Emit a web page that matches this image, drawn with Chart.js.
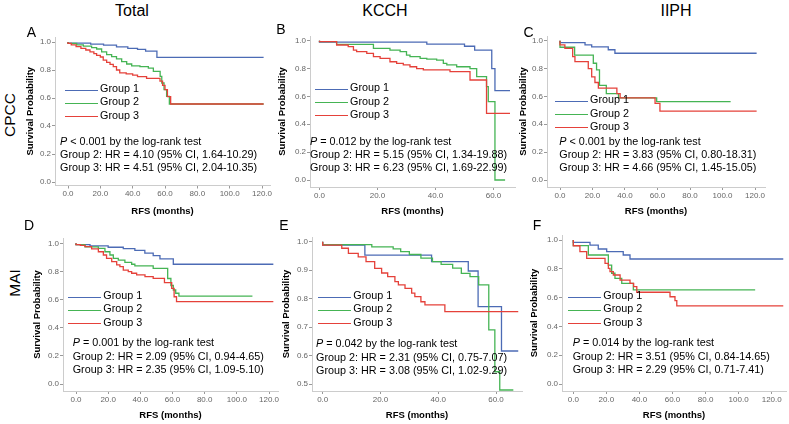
<!DOCTYPE html>
<html>
<head>
<meta charset="utf-8">
<title>RFS by group</title>
<script src="https://cdn.jsdelivr.net/npm/chart.js@4.4.1/dist/chart.umd.min.js"></script>
<style>
  body { margin: 0; background: #fff; }
  #page { position: relative; width: 789px; height: 424px; overflow: hidden; font-family: "Liberation Sans", Arial, sans-serif; color: #000; }
  #page canvas { position: absolute; }
  .lbl { position: absolute; white-space: nowrap; line-height: 1; }
  .head { font-size: 16px; transform: translate(-50%, -50%); }
  .row { font-size: 15.5px; transform: translate(-50%, -50%) rotate(-90deg); }
  .letter { font-size: 14px; transform: translate(-50%, -50%); }
  .txt { font-size: 10.8px; transform: translateY(-50%); }
  .key { position: absolute; height: 0; border-top: 1.3px solid; }
</style>
</head>
<body>
<div id="page"></div>
<script>
// ---- data ----
const columnNames = ['Total', 'KCCH', 'IIPH'];
const rowNames = ['CPCC', 'MAI'];
const groupNames = ['Group 1', 'Group 2', 'Group 3'];
const groupColors = ['#4c6bb5', '#45b454', '#e5413a'];

const xTicksLong = [0, 20, 40, 60, 80, 100, 120];
const xTicksShort = [0, 20, 40, 60];
const yTicksFull = [0, 0.2, 0.4, 0.6, 0.8, 1.0];
const yTicksHalf = [0.5, 0.6, 0.7, 0.8, 0.9, 1.0];

// A: Total / CPCC
const aT1 = [0, 14, 22, 30, 37, 43, 48, 55, 61, 121];
const aS1 = [1, 0.992, 0.985, 0.977, 0.965, 0.955, 0.948, 0.935, 0.89, 0.89];
const aT2 = [0, 5.4, 9.5, 14.6, 17.7, 20.8, 23.9, 27, 30, 33.2, 36.3, 39.4, 44.5, 49.7, 52.8, 57, 58, 59.4, 61, 62.7, 64, 121];
const aS2 = [1, 0.99, 0.98, 0.97, 0.96, 0.95, 0.93, 0.91, 0.895, 0.88, 0.86, 0.843, 0.83, 0.824, 0.814, 0.79, 0.755, 0.707, 0.66, 0.612, 0.557, 0.557];
const aT3 = [0, 2, 5, 8, 11, 13.6, 16, 17.7, 20, 21.8, 23.9, 26, 28, 30, 32, 36, 40, 43, 48.6, 56.9, 58.5, 60, 61.5, 63.5, 68.2, 121];
const aS3 = [1, 0.99, 0.98, 0.967, 0.955, 0.943, 0.93, 0.917, 0.905, 0.893, 0.871, 0.855, 0.84, 0.824, 0.8, 0.78, 0.772, 0.764, 0.752, 0.74, 0.72, 0.69, 0.66, 0.61, 0.557, 0.557];

// B: KCCH / CPCC
const bT1 = [0, 37, 50, 53.5, 59.4, 60.5, 61.3, 65.7];
const bS1 = [1, 0.99, 0.975, 0.96, 0.933, 0.8, 0.641, 0.641];
const bT2 = [0, 5.9, 18.6, 24.3, 27.8, 30, 31.2, 34.7, 37, 40.4, 42.7, 43.9, 47.3, 51.9, 54.2, 57.6, 58.2, 60.5, 64];
const bS2 = [1, 0.993, 0.974, 0.945, 0.933, 0.921, 0.897, 0.885, 0.873, 0.868, 0.861, 0.837, 0.826, 0.813, 0.8, 0.742, 0.67, 0.562, 0];
const bT3 = [0, 5.9, 9.9, 11.7, 12.8, 16.3, 18.6, 20.9, 24.3, 26.6, 28.9, 31.2, 33.5, 35.8, 45, 51.9, 57.6, 61.7, 65.7];
const bS3 = [1, 0.993, 0.969, 0.957, 0.933, 0.921, 0.909, 0.885, 0.873, 0.849, 0.837, 0.826, 0.813, 0.8, 0.79, 0.778, 0.718, 0.479, 0.479];

// C: IIPH / CPCC
const cT1 = [0, 15.4, 19.5, 29.7, 33.8, 37, 121];
const cS1 = [1, 0.986, 0.97, 0.955, 0.935, 0.91, 0.91];
const cT2 = [0, 9, 20.5, 22.5, 24.3, 28.5, 36, 59.5, 62, 105];
const cS2 = [1, 0.953, 0.897, 0.838, 0.79, 0.68, 0.62, 0.59, 0.562, 0.562];
const cT3 = [0, 3, 7.8, 9.2, 17.4, 19.5, 21.5, 23.6, 35, 37, 58.5, 61.5, 67.7, 121];
const cS3 = [1, 0.97, 0.945, 0.885, 0.85, 0.8, 0.74, 0.7, 0.66, 0.62, 0.59, 0.55, 0.495, 0.495];

// D: Total / MAI
const dT1 = [0, 8.7, 20, 29.4, 36.6, 42.8, 48, 52.2, 60.5, 62, 122.7];
const dS1 = [1, 0.99, 0.982, 0.972, 0.962, 0.95, 0.93, 0.912, 0.89, 0.851, 0.851];
const dT2 = [0, 5.6, 13.9, 18, 21.1, 23.2, 26.3, 30.4, 34.6, 36.6, 48, 57, 59, 60.5, 62, 64, 66, 109.7];
const dS2 = [1, 0.99, 0.975, 0.964, 0.94, 0.917, 0.893, 0.881, 0.865, 0.851, 0.84, 0.822, 0.75, 0.7, 0.668, 0.645, 0.625, 0.625];
const dT3 = [0, 2.7, 5.6, 9.7, 13.9, 17, 19, 22.2, 25.3, 27.3, 29.4, 32.5, 34.6, 37.7, 42.9, 48, 55, 59.5, 61, 62.5, 68.2, 122.7];
const dS3 = [1, 0.99, 0.985, 0.976, 0.96, 0.94, 0.917, 0.893, 0.87, 0.846, 0.834, 0.81, 0.798, 0.787, 0.775, 0.763, 0.751, 0.72, 0.68, 0.62, 0.585, 0.585];

// E: KCCH / MAI
const eT1 = [0, 14.6, 37.7, 50.4, 53.8, 61.9, 63.1, 67.7];
const eS1 = [1, 0.988, 0.953, 0.93, 0.897, 0.772, 0.616, 0.616];
const eT2 = [0, 17, 24.4, 27, 30, 34, 38, 41, 45, 48, 51, 54, 57.5, 59.6, 61.3, 66];
const eS2 = [1, 0.99, 0.982, 0.975, 0.965, 0.955, 0.942, 0.93, 0.92, 0.907, 0.889, 0.877, 0.848, 0.69, 0.543, 0.479];
const eT3 = [0, 6.6, 8.9, 12.3, 15, 18, 20.4, 22.5, 25, 26.2, 28.5, 30.8, 31.9, 34, 35.4, 42.3, 53.3, 67.7];
const eS3 = [1, 0.988, 0.977, 0.959, 0.947, 0.93, 0.906, 0.89, 0.877, 0.86, 0.848, 0.836, 0.819, 0.807, 0.789, 0.778, 0.754, 0.754];

// F: IIPH / MAI
const fT1 = [0, 10.1, 15.1, 20.2, 30.2, 34.3, 37.3, 127];
const fS1 = [1, 0.984, 0.965, 0.9375, 0.919, 0.896, 0.868, 0.868];
const fT2 = [0, 9.1, 21.2, 23.2, 25.2, 29.3, 36.3, 63.5, 110];
const fS2 = [1, 0.961, 0.896, 0.826, 0.769, 0.734, 0.699, 0.653, 0.653];
const fT3 = [0, 4, 8.1, 19.2, 21.2, 22.2, 24.2, 28.3, 34.3, 36.5, 38.4, 58.5, 61.5, 62.6, 68.6, 127];
const fS3 = [1, 0.96, 0.919, 0.873, 0.838, 0.803, 0.78, 0.757, 0.722, 0.699, 0.676, 0.637, 0.606, 0.579, 0.542, 0.542];

// log-rank / hazard ratio notes
const pValues = ['< 0.001', '= 0.012', '< 0.001', '= 0.001', '= 0.042', '= 0.014'];
const hrGroup2 = ['4.10 (95% CI, 1.64-10.29)', '5.15 (95% CI, 1.34-19.88)', '3.83 (95% CI, 0.80-18.31)',
                  '2.09 (95% CI, 0.94-4.65)', '2.31 (95% CI, 0.75-7.07)', '3.51 (95% CI, 0.84-14.65)'];
const hrGroup3 = ['4.51 (95% CI, 2.04-10.35)', '6.23 (95% CI, 1.69-22.99)', '4.66 (95% CI, 1.45-15.05)',
                  '2.35 (95% CI, 1.09-5.10)', '3.08 (95% CI, 1.02-9.29)', '2.29 (95% CI, 0.71-7.41)'];

// ---- layout (page pixels) ----
// area: chart area [left, top, right, bottom]; xRef/yRef: pixel of xVal/yVal
const panels = [
  { id: 'A', t: [aT1, aT2, aT3], s: [aS1, aS2, aS3], xTicks: xTicksLong, yTicks: yTicksFull,
    area: [55, 37, 270, 185.5], xRef: [68, 262], xVal: [0, 120], yRef: [182, 42], yVal: [0, 1],
    left: 25, bottom: 217, padR: 8, letter: [31.5, 32], key: [65, 88], note: [60, 140.7] },
  { id: 'B', t: [bT1, bT2, bT3], s: [bS1, bS2, bS3], xTicks: xTicksShort, yTicks: yTicksFull,
    area: [310, 36, 515, 187], xRef: [319.5, 493.5], xVal: [0, 60], yRef: [180, 40.7], yVal: [0, 1],
    left: 277, bottom: 217, padR: 8, letter: [281, 28.5], key: [315, 87.3], note: [310, 140.7] },
  { id: 'C', t: [cT1, cT2, cT3], s: [cS1, cS2, cS3], xTicks: xTicksLong, yTicks: yTicksFull,
    area: [547, 36, 765, 187], xRef: [560, 755], xVal: [0, 120], yRef: [180, 40.7], yVal: [0, 1],
    left: 518, bottom: 217, padR: 8, letter: [528.5, 32], key: [555, 99.3], note: [559.3, 140.7] },
  { id: 'D', t: [dT1, dT2, dT3], s: [dS1, dS2, dS3], xTicks: xTicksLong, yTicks: yTicksFull,
    area: [63, 238, 278, 391], xRef: [76, 269], xVal: [0, 120], yRef: [384, 243.3], yVal: [0, 1],
    left: 32, bottom: 421, padR: 8, letter: [29, 225], key: [68.3, 295], note: [72.7, 342.3] },
  { id: 'E', t: [eT1, eT2, eT3], s: [eS1, eS2, eS3], xTicks: xTicksShort, yTicks: yTicksHalf,
    area: [312, 237, 522, 391], xRef: [322.7, 496], xVal: [0, 60], yRef: [384, 241.7], yVal: [0.5, 1],
    left: 281, bottom: 421, padR: 8, letter: [284, 225], key: [318.3, 295], note: [316, 343.3] },
  { id: 'F', t: [fT1, fT2, fT3], s: [fS1, fS2, fS3], xTicks: xTicksLong, yTicks: yTicksFull,
    area: [562, 235, 786, 391], xRef: [573.3, 771.7], xVal: [0, 120], yRef: [384, 240], yVal: [0, 1],
    left: 529, bottom: 421, padR: 3, letter: [537, 225], key: [568.3, 295], note: [572.7, 342.3] }
];

const page = document.getElementById('page');

function addLabel(html, x, y, cls) {
  const el = document.createElement('div');
  el.className = 'lbl ' + cls;
  el.innerHTML = html;
  el.style.left = x + 'px';
  el.style.top = y + 'px';
  page.appendChild(el);
  return el;
}

// column heads and row labels
[132, 385, 676].forEach((x, i) => addLabel(columnNames[i], x, 11, 'head'));
addLabel(rowNames[0], 10, 115, 'row');
addLabel(rowNames[1], 15, 283, 'row');

Chart.defaults.font.family = '"Liberation Sans", Arial, sans-serif';

panels.forEach((p, k) => {
  const padTop = 8;
  const [L, T, R, B] = p.area;
  const top = T - padTop;
  const width = R + p.padR - p.left;
  const height = p.bottom - top;

  const cv = document.createElement('canvas');
  cv.width = width;
  cv.height = height;
  cv.style.left = p.left + 'px';
  cv.style.top = top + 'px';
  cv.style.width = width + 'px';
  cv.style.height = height + 'px';
  page.appendChild(cv);

  // scale limits so that the reference tick pixels land where they are in the figure
  const kx = (p.xRef[1] - p.xRef[0]) / (p.xVal[1] - p.xVal[0]);
  const ky = (p.yRef[0] - p.yRef[1]) / (p.yVal[1] - p.yVal[0]);
  const xMin = p.xVal[0] + (L - p.xRef[0]) / kx;
  const xMax = p.xVal[0] + (R - p.xRef[0]) / kx;
  const yMin = p.yVal[0] - (B - p.yRef[0]) / ky;
  const yMax = p.yVal[0] + (p.yRef[0] - T) / ky;

  new Chart(cv, {
    type: 'line',
    data: {
      datasets: p.t.map((times, i) => ({
        label: groupNames[i],
        data: times.map((x, j) => ({ x: x, y: p.s[i][j] })),
        borderColor: groupColors[i],
        borderWidth: 1.3,
        pointRadius: 0,
        stepped: 'after',
        fill: false,
        order: 2 - i
      }))
    },
    options: {
      responsive: false,
      animation: false,
      events: [],
      layout: { padding: { top: padTop, right: p.padR, bottom: 0, left: 0 } },
      plugins: { legend: { display: false }, tooltip: { enabled: false } },
      scales: {
        x: {
          type: 'linear', min: xMin, max: xMax,
          afterBuildTicks: s => { s.ticks = p.xTicks.map(v => ({ value: v })); },
          afterFit: s => { s.height = p.bottom - B; },
          ticks: { autoSkip: false, maxRotation: 0, padding: 0.5, color: '#666', font: { size: 8 },
                   callback: v => v.toFixed(1) },
          grid: { drawOnChartArea: false, drawTicks: true, tickLength: 3, color: '#999' },
          border: { display: true, color: '#ccc' },
          title: { display: true, text: 'RFS (months)', color: '#000', padding: 0,
                   font: { size: 9.5, weight: 'bold' } }
        },
        y: {
          type: 'linear', min: yMin, max: yMax,
          afterBuildTicks: s => { s.ticks = p.yTicks.map(v => ({ value: v })); },
          afterFit: s => { s.width = L - p.left; },
          ticks: { autoSkip: false, padding: 1, color: '#666', font: { size: 8 },
                   callback: v => v.toFixed(1) },
          grid: { drawOnChartArea: false, drawTicks: true, tickLength: 3, color: '#999' },
          border: { display: true, color: '#ccc' },
          title: { display: true, text: 'Survival Probability', color: '#000', padding: 0,
                   font: { size: 9.5, weight: 'bold' } }
        }
      }
    }
  });

  // panel letter
  addLabel(p.id, p.letter[0], p.letter[1], 'letter');

  // legend inside the plot
  groupNames.forEach((g, i) => {
    const y = p.key[1] + i * 13.3;
    const line = document.createElement('div');
    line.className = 'key';
    line.style.left = p.key[0] + 'px';
    line.style.top = (y + 1.5) + 'px';
    line.style.width = '33px';
    line.style.borderTopColor = groupColors[i];
    page.appendChild(line);
    addLabel(g, p.key[0] + 35, y, 'txt');
  });

  // test notes
  addLabel('<i>P</i> ' + pValues[k] + ' by the log-rank test', p.note[0], p.note[1], 'txt');
  addLabel('Group 2: HR = ' + hrGroup2[k], p.note[0], p.note[1] + 13.2, 'txt');
  addLabel('Group 3: HR = ' + hrGroup3[k], p.note[0], p.note[1] + 26.4, 'txt');
});
</script>
</body>
</html>
